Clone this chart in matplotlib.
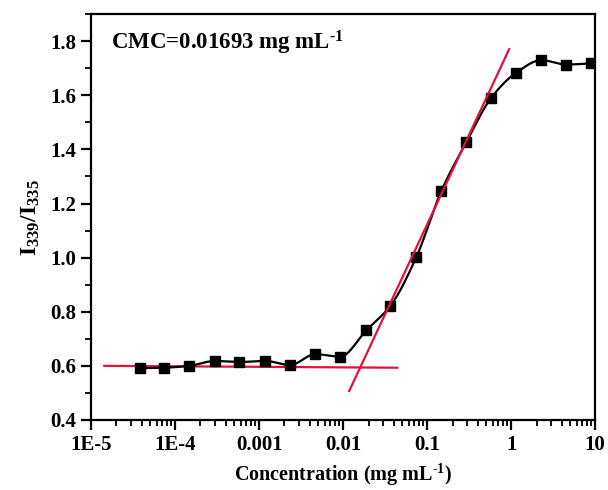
import numpy as np
import matplotlib
matplotlib.use("Agg")
import matplotlib.pyplot as plt
from matplotlib.ticker import FixedLocator, FixedFormatter, LogLocator, MultipleLocator, NullFormatter

plt.rcParams['font.family'] = 'Liberation Serif'
plt.rcParams['font.weight'] = 'bold'
plt.rcParams['mathtext.fontset'] = 'custom'
plt.rcParams['mathtext.rm'] = 'Liberation Serif:bold'
plt.rcParams['mathtext.it'] = 'Liberation Serif:bold'
plt.rcParams['mathtext.bf'] = 'Liberation Serif:bold'

# concentration (mg/mL) and I339/I335 ratio
conc = [3.83e-5, 7.4e-5, 1.47e-4, 2.99e-4, 5.78e-4, 1.18e-3, 2.34e-3, 4.64e-3,
        9.2e-3, 0.0188, 0.0363, 0.074, 0.147, 0.291, 0.578, 1.15, 2.28, 4.52, 8.96]
ratio = [0.591, 0.593, 0.600, 0.618, 0.614, 0.618, 0.603, 0.643,
         0.634, 0.731, 0.821, 1.001, 1.246, 1.426, 1.591, 1.684, 1.730, 1.714, 1.718]

# the two fitted lines (end points)
flat_x = [1.43e-5, 0.044]
flat_y = [0.600, 0.593]
steep_x = [0.01178, 0.946]
steep_y = [0.507, 1.771]

xticks = [1e-5, 1e-4, 1e-3, 1e-2, 1e-1, 1, 10]
xticklabels = ['1E-5', '1E-4', '0.001', '0.01', '0.1', '1', '10']


def smooth(x, y, n=600):
    # PCHIP-style cubic through the points, only used to draw the connecting curve
    x = np.asarray(x, float)
    y = np.asarray(y, float)
    h = np.diff(x)
    d = np.diff(y) / h
    m = np.zeros_like(y)
    for i in range(1, len(x) - 1):
        if d[i - 1] * d[i] > 0:
            w1 = 2 * h[i] + h[i - 1]
            w2 = h[i] + 2 * h[i - 1]
            m[i] = (w1 + w2) / (w1 / d[i - 1] + w2 / d[i])
    m[0] = d[0]
    m[-1] = d[-1]
    xs = np.linspace(x[0], x[-1], n)
    j = np.clip(np.searchsorted(x, xs) - 1, 0, len(x) - 2)
    t = (xs - x[j]) / h[j]
    h00 = 2 * t**3 - 3 * t**2 + 1
    h10 = t**3 - 2 * t**2 + t
    h01 = -2 * t**3 + 3 * t**2
    h11 = t**3 - t**2
    ys = h00 * y[j] + h10 * h[j] * m[j] + h01 * y[j + 1] + h11 * h[j] * m[j + 1]
    return xs, ys


fig = plt.figure(figsize=(6.08, 4.90), dpi=100)
ax = fig.add_axes([0.150, 0.143, 0.829, 0.828])

lx, ly = smooth(np.log10(conc), ratio)
ax.plot(10**lx, ly, color='black', lw=1.6, zorder=3)
ax.plot(conc, ratio, 's', color='black', ms=6.5, zorder=4)

red = '#E3103F'
ax.plot(flat_x, flat_y, color=red, lw=1.6, zorder=2)
ax.plot(steep_x, steep_y, color=red, lw=1.6, zorder=5)

ax.set_xscale('log')
ax.set_xlim(1e-5, 10)
ax.set_ylim(0.4, 1.9)

ax.xaxis.set_major_locator(FixedLocator(xticks))
ax.xaxis.set_major_formatter(FixedFormatter(xticklabels))
ax.xaxis.set_minor_locator(LogLocator(base=10, subs=np.arange(2, 10), numticks=20))
ax.xaxis.set_minor_formatter(NullFormatter())
ax.yaxis.set_major_locator(MultipleLocator(0.2))
ax.yaxis.set_minor_locator(MultipleLocator(0.1))
ax.yaxis.set_major_formatter(matplotlib.ticker.FormatStrFormatter('%.1f'))

for s in ax.spines.values():
    s.set_linewidth(1.6)
ax.tick_params(which='major', direction='out', length=7, width=1.6, labelsize=15, pad=4)
ax.tick_params(which='minor', direction='out', length=4, width=1.3)
ax.tick_params(top=False, right=False, which='both')

ax.set_xlabel(r'Concentration (mg mL$^{\text{-1}}$)', fontsize=14.5, fontweight='bold', labelpad=5)
ax.set_ylabel('I$_{339}$/I$_{335}$', fontsize=17, fontweight='bold', labelpad=6)

ax.text(0.04, 0.93, r'CMC=0.01693 mg mL$^{\text{-1}}$', transform=ax.transAxes,
        fontsize=16.5, fontweight='bold', va='center', ha='left')

fig.savefig('out.png', dpi=100)
